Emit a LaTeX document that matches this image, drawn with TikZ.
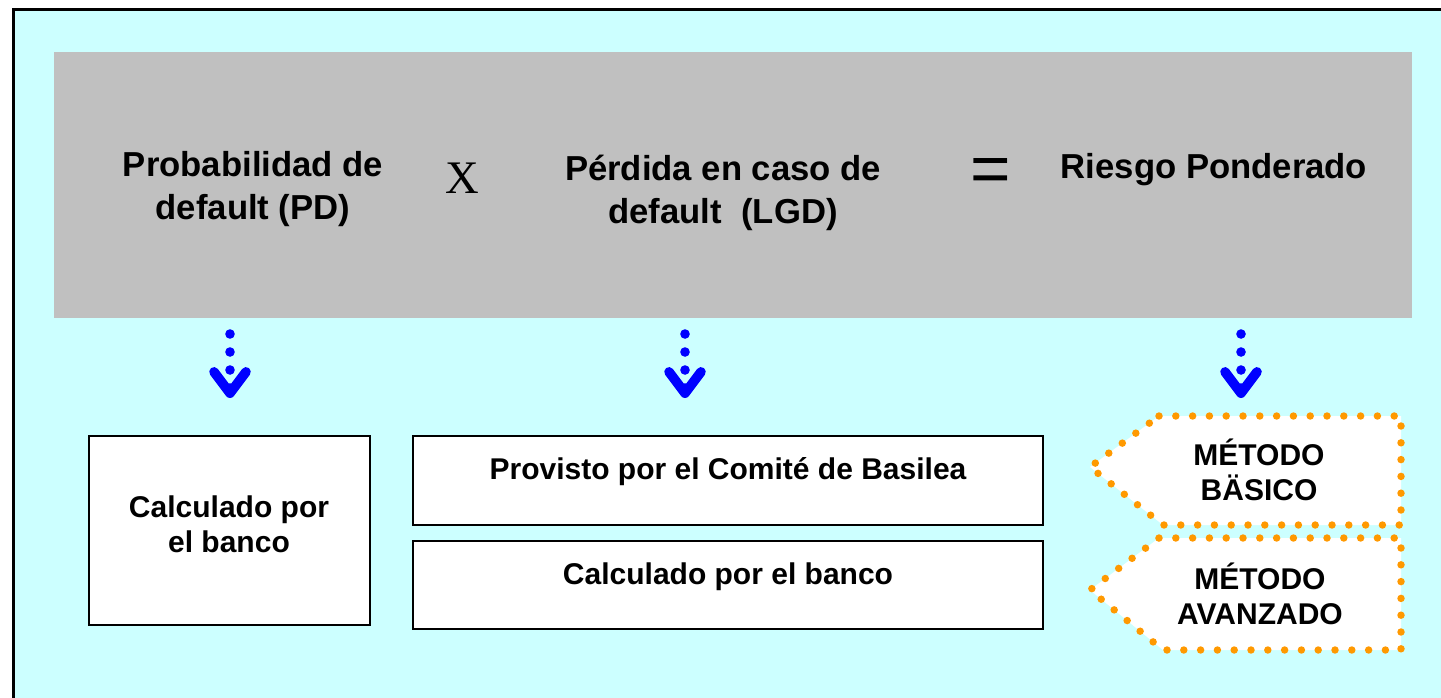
\documentclass[tikz,border=0pt]{standalone}
\usepackage{fontspec}
\setmainfont{Liberation Sans}
\newfontfamily\serifX{Liberation Serif}
\usetikzlibrary{arrows.meta}
\definecolor{bgcyan}{HTML}{CCFFFF}
\definecolor{graybar}{HTML}{C0C0C0}
\definecolor{orangedot}{HTML}{FF9900}
\begin{document}
\begin{tikzpicture}[x=0.75pt,y=-0.75pt,
  toptext/.style={font=\bfseries\fontsize{26}{32}\selectfont, align=center, inner sep=0pt},
  bottext/.style={font=\bfseries\fontsize{22.5}{26.5}\selectfont, align=center, inner sep=0pt},
  whitebox/.style={draw=black, line width=1.5pt, fill=white, inner sep=0pt},
  dotarrow/.style={draw=blue, line width=7.2pt, line cap=round, dash pattern=on 0pt off 13.5pt,
    -{Straight Barb[length=16pt, width=24pt, round]}},
  orangeshape/.style={draw=orangedot, fill=white, line width=5.6pt, line cap=round,
    dash pattern=on 0pt off 12.6pt}
]
\useasboundingbox (0,0) rectangle (1441,697);
\clip (0,0) rectangle (1441,697);
\fill[white] (0,0) rectangle (1441,697);
\draw[line width=2.25pt, fill=bgcyan] (13.5,9) rectangle (1480,730);
% gray band
\fill[graybar] (54,52) rectangle (1412,318);
\node[toptext] (pd) at (253,189) {Probabilidad de\\default (PD)};
\node[inner sep=0pt, font=\serifX\fontsize{35}{35}\selectfont] (times) at (462,178) {X};
\node[toptext] (lgd) at (723,193) {Pérdida en caso de\\default \ (LGD)};
\node[inner sep=0pt, font=\fontsize{52}{52}\selectfont] (eq) at (991,175) {=};
\node[toptext] (rp) at (1214,170) {Riesgo Ponderado};
% boxes
\node[whitebox, minimum width=211.1pt, minimum height=141.75pt] (b1) at (229.25,530.5) {};
\node[whitebox, minimum width=472.5pt, minimum height=66.75pt] (b2) at (728,480.5) {};
\node[whitebox, minimum width=472.5pt, minimum height=66pt] (b3) at (728,585) {};
\node[bottext] (t1) at (229,524) {Calculado por\\el banco};
\node[bottext] (t2) at (728,472) {Provisto por el Comité de Basilea};
\node[bottext] (t3) at (728,577) {Calculado por el banco};
% orange pentagons
\draw[orangeshape] (1159,416) -- (1401,416) -- (1401,525) -- (1163,525) -- (1090,467) -- cycle;
\draw[orangeshape] (1159,538) -- (1401,538) -- (1401,650) -- (1163,650) -- (1090,590) -- cycle;
\node[bottext] (m1) at (1259,470) {MÉTODO\\BÄSICO};
\node[bottext] (m2) at (1260,594) {MÉTODO\\AVANZADO};
% arrows
\coordinate (a1s) at (230,334); \coordinate (a1e) at (230,398);
\coordinate (a2s) at (685,334); \coordinate (a2e) at (685,398);
\coordinate (a3s) at (1241,334); \coordinate (a3e) at (1241,398);
\draw[dotarrow] (a1s) -- (a1e);
\draw[dotarrow] (a2s) -- (a2e);
\draw[dotarrow] (a3s) -- (a3e);
\end{tikzpicture}
\end{document}
